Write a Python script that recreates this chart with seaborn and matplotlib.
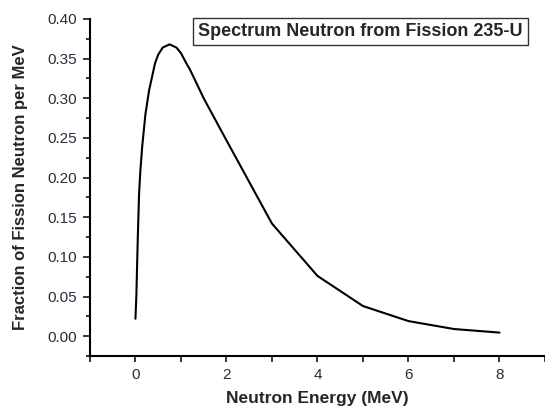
import numpy as np
import pandas as pd
import seaborn as sns
import matplotlib.pyplot as plt
from matplotlib.ticker import MultipleLocator

# values
energy = [0.0, 0.02, 0.05, 0.08, 0.11, 0.15, 0.22, 0.3, 0.43, 0.5, 0.6, 0.75,
          0.9, 1.0, 1.12, 1.2, 1.5, 2.0, 3.0, 4.0, 5.0, 6.0, 7.0, 8.0]
fraction = [0.022, 0.05, 0.12, 0.18, 0.21, 0.24, 0.28, 0.31, 0.344, 0.355, 0.364, 0.368,
            0.364, 0.357, 0.344, 0.336, 0.30, 0.247, 0.142, 0.076, 0.038, 0.019, 0.009, 0.0045]
title_text = "Spectrum Neutron from Fission 235-U"

df = pd.DataFrame({"energy": energy, "fraction": fraction})

sns.set_style("ticks")
plt.rcParams['font.family'] = ['Liberation Sans', 'DejaVu Sans']

fig = plt.figure(figsize=(5.45, 4.09), dpi=100)
ax = fig.add_axes([0.165, 0.1296, 0.835, 0.824])
sns.lineplot(data=df, x="energy", y="fraction", color="black", linewidth=1.5,
             sort=False, estimator=None, ax=ax)

ax.set_xlim(-1, 9)
ax.set_ylim(-0.025, 0.40)
ax.xaxis.set_major_locator(MultipleLocator(2))
ax.xaxis.set_minor_locator(MultipleLocator(1))
ax.yaxis.set_major_locator(MultipleLocator(0.05))
ax.yaxis.set_minor_locator(MultipleLocator(0.025))
ax.set_yticks(np.arange(0, 0.401, 0.05))
ax.set_xticks([0, 2, 4, 6, 8])
ax.yaxis.set_major_formatter(plt.FuncFormatter(lambda v, p: f"{v:.2f}"))

sns.despine(ax=ax)
for s in ["left", "bottom"]:
    ax.spines[s].set_linewidth(1.5)
    ax.spines[s].set_color("black")
ax.tick_params(which="major", length=5, width=1.3, labelsize=11, labelcolor="#2b2b3b", pad=4)
ax.tick_params(which="minor", length=3, width=1.3)
ax.tick_params(axis="x", which="major", length=4, pad=5)
ax.tick_params(axis="x", which="minor", length=4)

ax.set_xlabel("Neutron Energy (MeV)", fontsize=12.5, fontweight="bold", labelpad=6)
ax.set_ylabel("Fraction of Fission Neutron per MeV", fontsize=12, fontweight="bold", labelpad=14)

ax.text(0.594, 0.963, title_text, transform=ax.transAxes, ha="center", va="center",
        fontsize=13, fontweight="bold",
        bbox=dict(boxstyle="square,pad=0.3", facecolor="white", edgecolor="#333333", linewidth=1))

fig.savefig("out.png", dpi=100)
